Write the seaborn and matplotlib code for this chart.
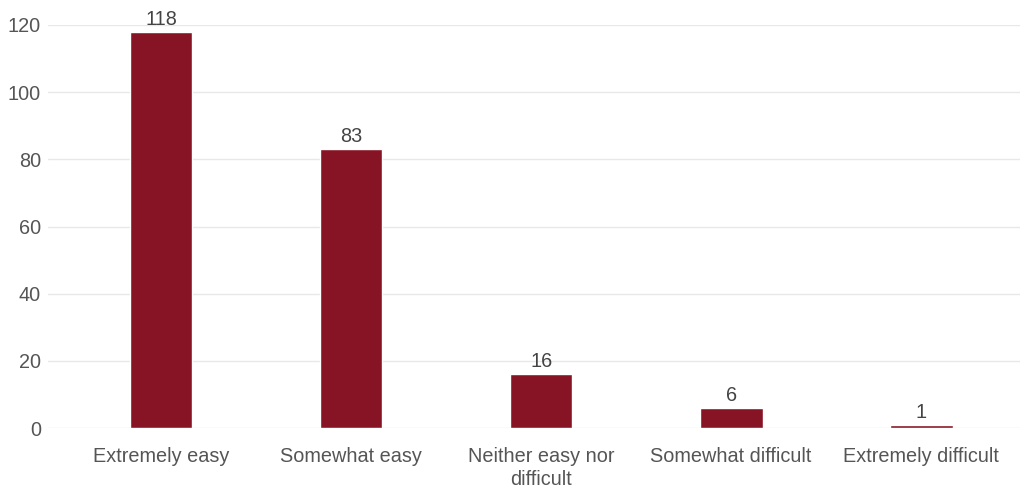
import matplotlib
matplotlib.use("Agg")
import matplotlib.pyplot as plt
import seaborn as sns
import pandas as pd

categories = ["Extremely easy", "Somewhat easy", "Neither easy nor\ndifficult",
              "Somewhat difficult", "Extremely difficult"]
values = [118, 83, 16, 6, 1]
yticks = [0, 20, 40, 60, 80, 100, 120]

sns.set_theme(style="white")
plt.rcParams['font.family'] = ['Liberation Sans', 'DejaVu Sans']

df = pd.DataFrame({"cat": categories, "val": values})
fig = plt.figure(figsize=(10.24, 4.92), dpi=100)
ax = fig.add_axes([48/1024, 1-428/492, (1020-48)/1024, (428-25)/492])
sns.barplot(data=df, x="cat", y="val", color="#861424", saturation=1, width=0.33, ax=ax)
ax.set_xlim(-0.595, 4.52)
ax.set_ylim(0, 120)
ax.set_yticks(yticks)
ax.yaxis.grid(True, color="#e8e8e8", linewidth=1)
ax.set_axisbelow(True)
for s in ax.spines.values():
    s.set_visible(False)
ax.set_xlabel("")
ax.set_ylabel("")
ax.tick_params(axis="both", length=0, labelsize=14.3, colors="#555555")
ax.tick_params(axis="x", pad=14)
ax.tick_params(axis="y", pad=5)
for lbl in ax.get_xticklabels():
    lbl.set_linespacing(1.25)
for c in ax.containers:
    ax.bar_label(c, labels=[str(v) for v in values], fontsize=14.3, color="#444444", padding=2)
fig.savefig("out.png", dpi=100)
